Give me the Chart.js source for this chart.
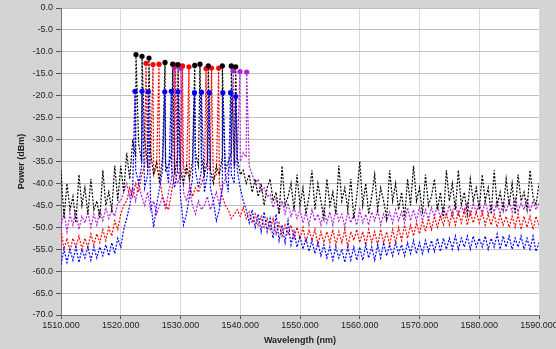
<!DOCTYPE html>
<html>
<head>
<meta charset="utf-8">
<title>Spectrum</title>
<script src="https://cdn.jsdelivr.net/npm/chart.js@4.4.0/dist/chart.umd.min.js"></script>
<style>
  html, body { margin: 0; padding: 0; background: #d4d4d4; }
  #wrap { width: 556px; height: 349px; }
</style>
</head>
<body>
<div id="wrap"><canvas id="spectrumChart" width="556" height="349"></canvas></div>
<script>
// Sample grid: 1510 nm to 1590 nm every 0.5 nm (161 samples)
const wavelengths = Array.from({ length: 161 }, (_, i) => 1510 + i * 0.5);

// Noise floor / ASE level, one row per 5 nm
const blackLevels = [
  -37, -48, -40, -46, -43, -49, -38, -45, -41, -47,
  -39, -46, -44, -48, -37, -45, -42, -46, -36, -44,
  -36, -42, -33, -39, -30, -34, -31, -35, -30, -36,
  -33, -38, -35, -40, -34, -37, -36, -33, -38, -34,
  -37, -40, -36, -39, -35, -33, -36, -34, -38, -35,
  -37, -40, -36, -38, -34, -37, -35, -33, -36, -34,
  -38, -37, -40, -38, -42, -39, -43, -40, -45, -41,
  -39, -44, -42, -47, -36, -45, -43, -40, -46, -38,
  -45, -41, -47, -43, -37, -46, -40, -44, -48, -39,
  -45, -42, -47, -36, -44, -41, -46, -39, -48, -43,
  -35, -45, -40, -47, -43, -38, -46, -41, -44, -48,
  -37, -44, -40, -46, -42, -48, -39, -45, -36, -44,
  -41, -47, -38, -45, -43, -39, -46, -42, -48, -37,
  -44, -40, -46, -37, -45, -42, -47, -39, -44, -41,
  -46, -38, -44, -41, -47, -37, -45, -42, -46, -39,
  -45, -40, -47, -38, -44, -42, -46, -37, -43, -45,
  -40
];

const magentaLevels = [
  -50, -46.5, -51, -47, -49.5, -46, -50.5, -47.5, -49, -46.5,
  -50, -47, -49.5, -46, -48.5, -45.5, -48, -46, -47.5, -44.5,
  -44, -42, -40, -43, -41, -44, -40, -43, -45, -42,
  -46, -44, -47, -45, -43, -46, -42, -39, -37, -40,
  -38, -42, -44, -41, -45, -47, -44, -46, -45, -43,
  -46, -44, -42, -45, -41, -39, -37, -35, -36, -34,
  -35, -33, -34, -36, -38, -40, -39, -42, -41, -43,
  -42.5, -45.5, -43.5, -46.5, -44, -47, -44.5, -47.5, -45.5, -48,
  -46, -49, -46.5, -49.5, -46, -48.5, -47, -49.5, -46, -49,
  -46.5, -49.5, -46, -48.5, -47, -50, -46.5, -49, -47, -49.5,
  -46, -49, -47, -49.5, -46.5, -48.5, -46, -49.5, -47, -48.5,
  -46.5, -49, -46, -48.5, -46.5, -49, -45.5, -48.5, -46, -48.5,
  -45.5, -48.5, -46, -48, -45.5, -47.5, -45, -48, -45.5, -47.5,
  -45, -47.5, -44.5, -47.5, -45, -47, -44.5, -47.5, -44.5, -46.5,
  -44.5, -47, -44, -47, -45, -46.5, -44, -47, -44.5, -46.5,
  -44, -46.5, -43.5, -46.5, -44.5, -46, -43.5, -46.5, -44, -46,
  -44.5
];

const redLevels = [
  -50.5, -55, -52.5, -55.5, -52.5, -54.5, -52, -55, -52.5, -54.5,
  -51.5, -54, -51.5, -53.5, -50.5, -53, -50, -52, -48.5, -50.5,
  -47, -45, -44, -41, -43, -40, -42, -38, -36, -37,
  -35, -38, -36, -39, -43, -45, -46, -42, -38, -37,
  -39, -36, -38, -40, -43, -41, -42, -40, -38, -36,
  -37, -39, -38, -40, -43, -45, -46, -48, -47, -46,
  -47.5, -45.5, -48, -46.5, -49, -47, -49.5, -47.5, -50, -48,
  -50.5, -48, -51.5, -49, -52, -49.5, -51.5, -49.5, -52.5, -50,
  -52.5, -50, -53.5, -50.5, -53, -50.5, -54, -51, -53.5, -51,
  -53.5, -50.5, -54, -51, -53.5, -50.5, -54.5, -51, -53, -50.5,
  -53.5, -51, -54, -50.5, -53.5, -51, -54, -50.5, -53.5, -51,
  -54, -50.5, -53.5, -50, -53, -49.5, -52.5, -49.5, -52, -49,
  -51.5, -48.5, -51, -48, -50.5, -47.5, -50, -47.5, -49.5, -47,
  -49.5, -46.5, -49.5, -46.5, -49, -46, -49.5, -46.5, -49, -46.5,
  -49, -46.5, -49.5, -47, -49.5, -47, -50, -47, -49.5, -47.5,
  -50, -47.5, -50, -47, -50.5, -47.5, -50, -47.5, -50.5, -47.5,
  -49.5
];

const blueLevels = [
  -58.5, -55, -58, -55, -57.5, -54.5, -58, -55, -57, -54.5,
  -57.5, -54.5, -57, -54.5, -56.5, -54, -56.5, -53.5, -56, -52.5,
  -54.5, -50.5, -48, -45, -41, -37, -40, -36, -41, -38,
  -44, -50, -45, -41, -37, -35, -40, -36, -41, -37,
  -43, -49.5, -47, -43, -39, -37, -41, -37, -42, -38,
  -41, -44, -48.5, -46, -41, -38, -42, -38, -40, -37,
  -41, -44, -46, -49, -46, -50, -47, -51, -46.5, -51,
  -48, -52.5, -47, -53, -49.5, -53.5, -48.5, -54, -51, -54.5,
  -52, -55, -52.5, -55.5, -53, -56, -53.5, -56.5, -54, -57,
  -54.5, -57.5, -54.5, -57, -55, -58, -54.5, -57.5, -54.5, -57.5,
  -54.5, -57.5, -54, -57, -54.5, -57.5, -54, -57, -53.5, -56.5,
  -54, -56.5, -53.5, -56, -54, -56.5, -53.5, -56, -53, -56,
  -53.5, -56, -53, -55.5, -53, -55.5, -52.5, -55.5, -52.5, -55,
  -52.5, -55, -52, -55, -52.5, -54.5, -52, -55, -52, -54.5,
  -52.5, -54.5, -52, -55, -52.5, -54.5, -51.5, -55, -52, -54.5,
  -52, -55, -52.5, -54.5, -52, -55, -52.5, -55, -52, -55.5,
  -53.5
];

// Channel peaks (marked with dots in the picture)
const blackPeakWl = [1522.55, 1523.56, 1524.73, 1527.41, 1528.69, 1529.58, 1532.38, 1533.26, 1534.65, 1537.0, 1538.5, 1539.24];
const blackPeakDb = [-10.6, -11.0, -11.4, -12.4, -12.8, -12.9, -13.1, -12.8, -13.2, -13.2, -13.2, -13.4];

const redPeakWl = [1524.23, 1525.4, 1526.4, 1529.16, 1530.33, 1531.42, 1534.27, 1535.19, 1536.39];
const redPeakDb = [-12.6, -12.9, -12.8, -13.0, -13.2, -13.4, -13.8, -13.7, -13.7];

const bluePeakWl = [1522.38, 1523.56, 1524.61, 1527.37, 1528.46, 1529.58, 1532.34, 1533.51, 1534.82, 1537.08, 1538.37, 1539.24];
const bluePeakDb = [-19.0, -19.0, -19.1, -19.1, -19.0, -19.1, -19.3, -19.2, -19.3, -19.3, -19.3, -20.2];

const magentaPeakWl = [1528.96, 1530.08, 1538.84, 1539.96, 1541.08];
const magentaPeakDb = [-13.6, -13.8, -14.3, -14.5, -14.6];

const BLACK = "#000000";
const RED = "#ff0000";
const BLUE = "#0000ff";
const MAGENTA = "#b01ed8";
const FONT = "'Liberation Sans', Arial, sans-serif";

// merge the sampled floor with the peak samples, sorted by wavelength
function buildTrace(levels, peakWl, peakDb) {
  const pts = wavelengths.map((w, i) => ({ x: w, y: levels[i] }));
  peakWl.forEach((w, i) => pts.push({ x: w, y: peakDb[i] }));
  return pts.sort((a, b) => a.x - b.x);
}

function buildMarkers(peakWl, peakDb) {
  return peakWl.map((w, i) => ({ x: w, y: peakDb[i] }));
}

function traceDataset(label, data, color) {
  return {
    label,
    data,
    borderColor: color,
    backgroundColor: color,
    borderWidth: 1.2,
    borderDash: [2, 1.5],
    pointRadius: 0,
    tension: 0,
    fill: false,
  };
}

function markerDataset(label, data, color) {
  return {
    label,
    data,
    showLine: false,
    pointRadius: 2.6,
    pointBorderWidth: 0,
    pointBackgroundColor: color,
    borderColor: color,
  };
}

// grey panel + white plot area like the instrument front panel
const plotBackground = {
  id: "plotBackground",
  beforeDraw(chart) {
    const { ctx, chartArea } = chart;
    ctx.save();
    ctx.fillStyle = "#d4d4d4";
    ctx.fillRect(0, 0, chart.width, chart.height);
    ctx.fillStyle = "#ffffff";
    ctx.fillRect(chartArea.left, chartArea.top, chartArea.right - chartArea.left, chartArea.bottom - chartArea.top);
    ctx.restore();
  }
};

const ctx = document.getElementById("spectrumChart").getContext("2d");
new Chart(ctx, {
  type: "line",
  data: {
    datasets: [
      markerDataset("Black peaks", buildMarkers(blackPeakWl, blackPeakDb), BLACK),
      markerDataset("Red peaks", buildMarkers(redPeakWl, redPeakDb), RED),
      markerDataset("Blue peaks", buildMarkers(bluePeakWl, bluePeakDb), BLUE),
      markerDataset("Magenta peaks", buildMarkers(magentaPeakWl, magentaPeakDb), MAGENTA),
      traceDataset("Blue", buildTrace(blueLevels, bluePeakWl, bluePeakDb), BLUE),
      traceDataset("Black", buildTrace(blackLevels, blackPeakWl, blackPeakDb), BLACK),
      traceDataset("Red", buildTrace(redLevels, redPeakWl, redPeakDb), RED),
      traceDataset("Magenta", buildTrace(magentaLevels, magentaPeakWl, magentaPeakDb), MAGENTA),
    ]
  },
  options: {
    responsive: false,
    animation: false,
    devicePixelRatio: 1,
    layout: { padding: { left: 0, top: 8, right: 17, bottom: 0 } },
    plugins: {
      legend: { display: false },
      tooltip: { enabled: false },
    },
    scales: {
      x: {
        type: "linear",
        min: 1510,
        max: 1590,
        ticks: {
          stepSize: 10,
          maxRotation: 0,
          padding: 1,
          color: "#222",
          font: { family: FONT, size: 9 },
          callback: (v) => v.toFixed(3),
        },
        grid: { color: "#dadada", tickColor: "#555", tickLength: 4 },
        border: { color: "#777" },
        title: {
          display: true,
          text: "Wavelength (nm)",
          color: "#222",
          font: { family: FONT, size: 9, weight: "bold" },
          padding: { top: 0, bottom: 3 },
        },
        afterFit(scale) {
          scale.height = 34;
          scale.paddingLeft = 0;
          scale.paddingRight = 0;
        },
      },
      y: {
        min: -70,
        max: 0,
        ticks: {
          stepSize: 5,
          padding: 3,
          color: "#222",
          font: { family: FONT, size: 9 },
          callback: (v) => v.toFixed(1),
        },
        grid: { color: "#c2c2c2", tickColor: "#555", tickLength: 5 },
        border: { color: "#777" },
        title: {
          display: true,
          text: "Power (dBm)",
          color: "#222",
          font: { family: FONT, size: 9, weight: "bold" },
          padding: { top: 16, bottom: 0 },
        },
        afterFit(scale) {
          scale.width = 61;
          scale.paddingTop = 0;
          scale.paddingBottom = 0;
        },
      },
    },
  },
  plugins: [plotBackground],
});
</script>
</body>
</html>
